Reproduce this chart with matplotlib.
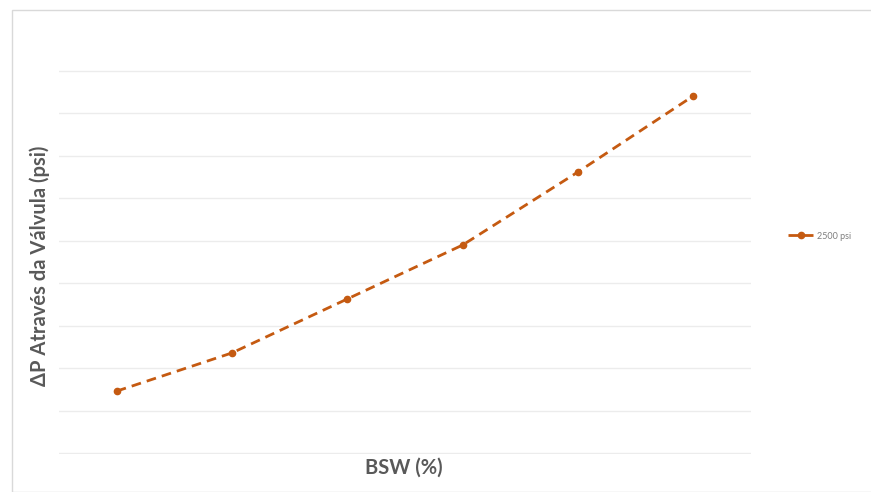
import matplotlib.pyplot as plt
from matplotlib.patches import Rectangle

# data (no tick labels shown, values in gridline units)
categories = ["1", "2", "3", "4", "5", "6"]
dp_2500 = [1.46, 2.36, 3.63, 4.90, 6.62, 8.41]
series_name = "2500 psi"

orange = "#C55A11"
gray = "#595959"

plt.rcParams["font.family"] = ["Lato", "DejaVu Sans"]

fig = plt.figure(figsize=(8.71, 4.92), dpi=100)
ax = fig.add_axes([59 / 871, 1 - 454 / 492, 692 / 871, (454 - 70) / 492])

# outer chart border like the office chart frame
fig.patches.append(Rectangle((12 / 871, 0), 1.0, 1 - 10 / 492,
                             transform=fig.transFigure, fill=False,
                             edgecolor="#d9d9d9", linewidth=1.0))

x = [i + 0.5 for i in range(len(categories))]
ax.plot(x, dp_2500, color=orange, linestyle=(0, (3.5, 2.2)), linewidth=2.0,
        marker="o", markersize=4.5, label=series_name)

ax.set_xlim(0, len(categories))
ax.set_ylim(-0.02, 9.02)
ax.set_yticks(range(0, 10))
ax.set_xticks([])
ax.tick_params(axis="y", length=0, labelleft=False)
ax.grid(axis="y", color="#ececec", linewidth=1.0)
for s in ax.spines.values():
    s.set_visible(False)

fig.text(404 / 871, 1 - 468 / 492, "BSW (%)", ha="center", va="center",
         fontsize=14.5, fontweight="bold", color=gray)
fig.text(40 / 871, 1 - 266 / 492, "ΔP Através da Válvula (psi)", ha="center",
         va="center", rotation=90, fontsize=14.5, fontweight="bold", color=gray)

ax.legend(loc="center left", bbox_to_anchor=(780 / 871, 1 - 236 / 492),
          bbox_transform=fig.transFigure, frameon=False, fontsize=6.5,
          labelcolor="#7f7f7f", handlelength=2.8, handletextpad=0.4)

fig.savefig("out.png", dpi=100)
